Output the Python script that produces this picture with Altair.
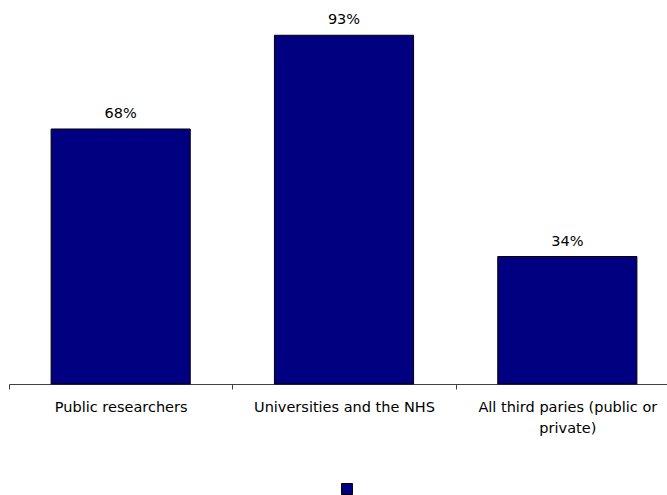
import altair as alt
import pandas as pd

categories = ["Public researchers", "Universities and the NHS", "All third paries (public or private)"]
values = [68, 93, 34]
labels = ["68%", "93%", "34%"]
series = [" ", " ", " "]

df = pd.DataFrame({"cat": categories, "val": values, "lab": labels, "series": series})

FONT = "DejaVu Sans"

x = alt.X(
    "cat:N",
    sort=categories,
    title=None,
    scale=alt.Scale(paddingInner=0, paddingOuter=0, range=[0, 670]),
    axis=alt.Axis(
        labelAngle=0,
        tickBand="extent",
        domainColor="#404040",
        tickColor="#404040",
        tickSize=5,
        labelPadding=11,
        labelFont=FONT,
        labelFontSize=14.5,
        labelColor="#000000",
        labelLineHeight=21,
        labelLimit=300,
        labelExpr="datum.value == 'All third paries (public or private)' ? ['All third paries (public or', 'private)'] : datum.value",
    ),
)
y = alt.Y("val:Q", scale=alt.Scale(domain=[0, 100]), axis=None)

bars = alt.Chart(df).mark_bar(
    width=alt.RelativeBandSize(0.623), stroke="#000000", strokeWidth=1
).encode(
    x=x,
    y=y,
    color=alt.Color(
        "series:N",
        scale=alt.Scale(range=["#000080"]),
        legend=alt.Legend(
            title=None,
            orient="none",
            legendX=332,
            legendY=474,
            symbolType="square",
            symbolSize=121,
            symbolStrokeColor="#000000",
            symbolStrokeWidth=1,
            labelFontSize=1,
            labelLimit=1,
        ),
    ),
)

text = alt.Chart(df).mark_text(
    dy=-8, baseline="bottom", font=FONT, fontSize=14.5, color="#000000"
).encode(x=alt.X("cat:N", sort=categories), y=y, text="lab:N")

chart = (
    alt.layer(bars, text)
    .properties(
        width=658,
        height=375,
        autosize=alt.AutoSizeParams(type="none"),
        padding={"left": 9, "top": 9, "right": 0, "bottom": 111},
    )
    .configure_view(stroke=None)
)

chart.save("out.html", embed_options={"renderer": "svg", "actions": False})
